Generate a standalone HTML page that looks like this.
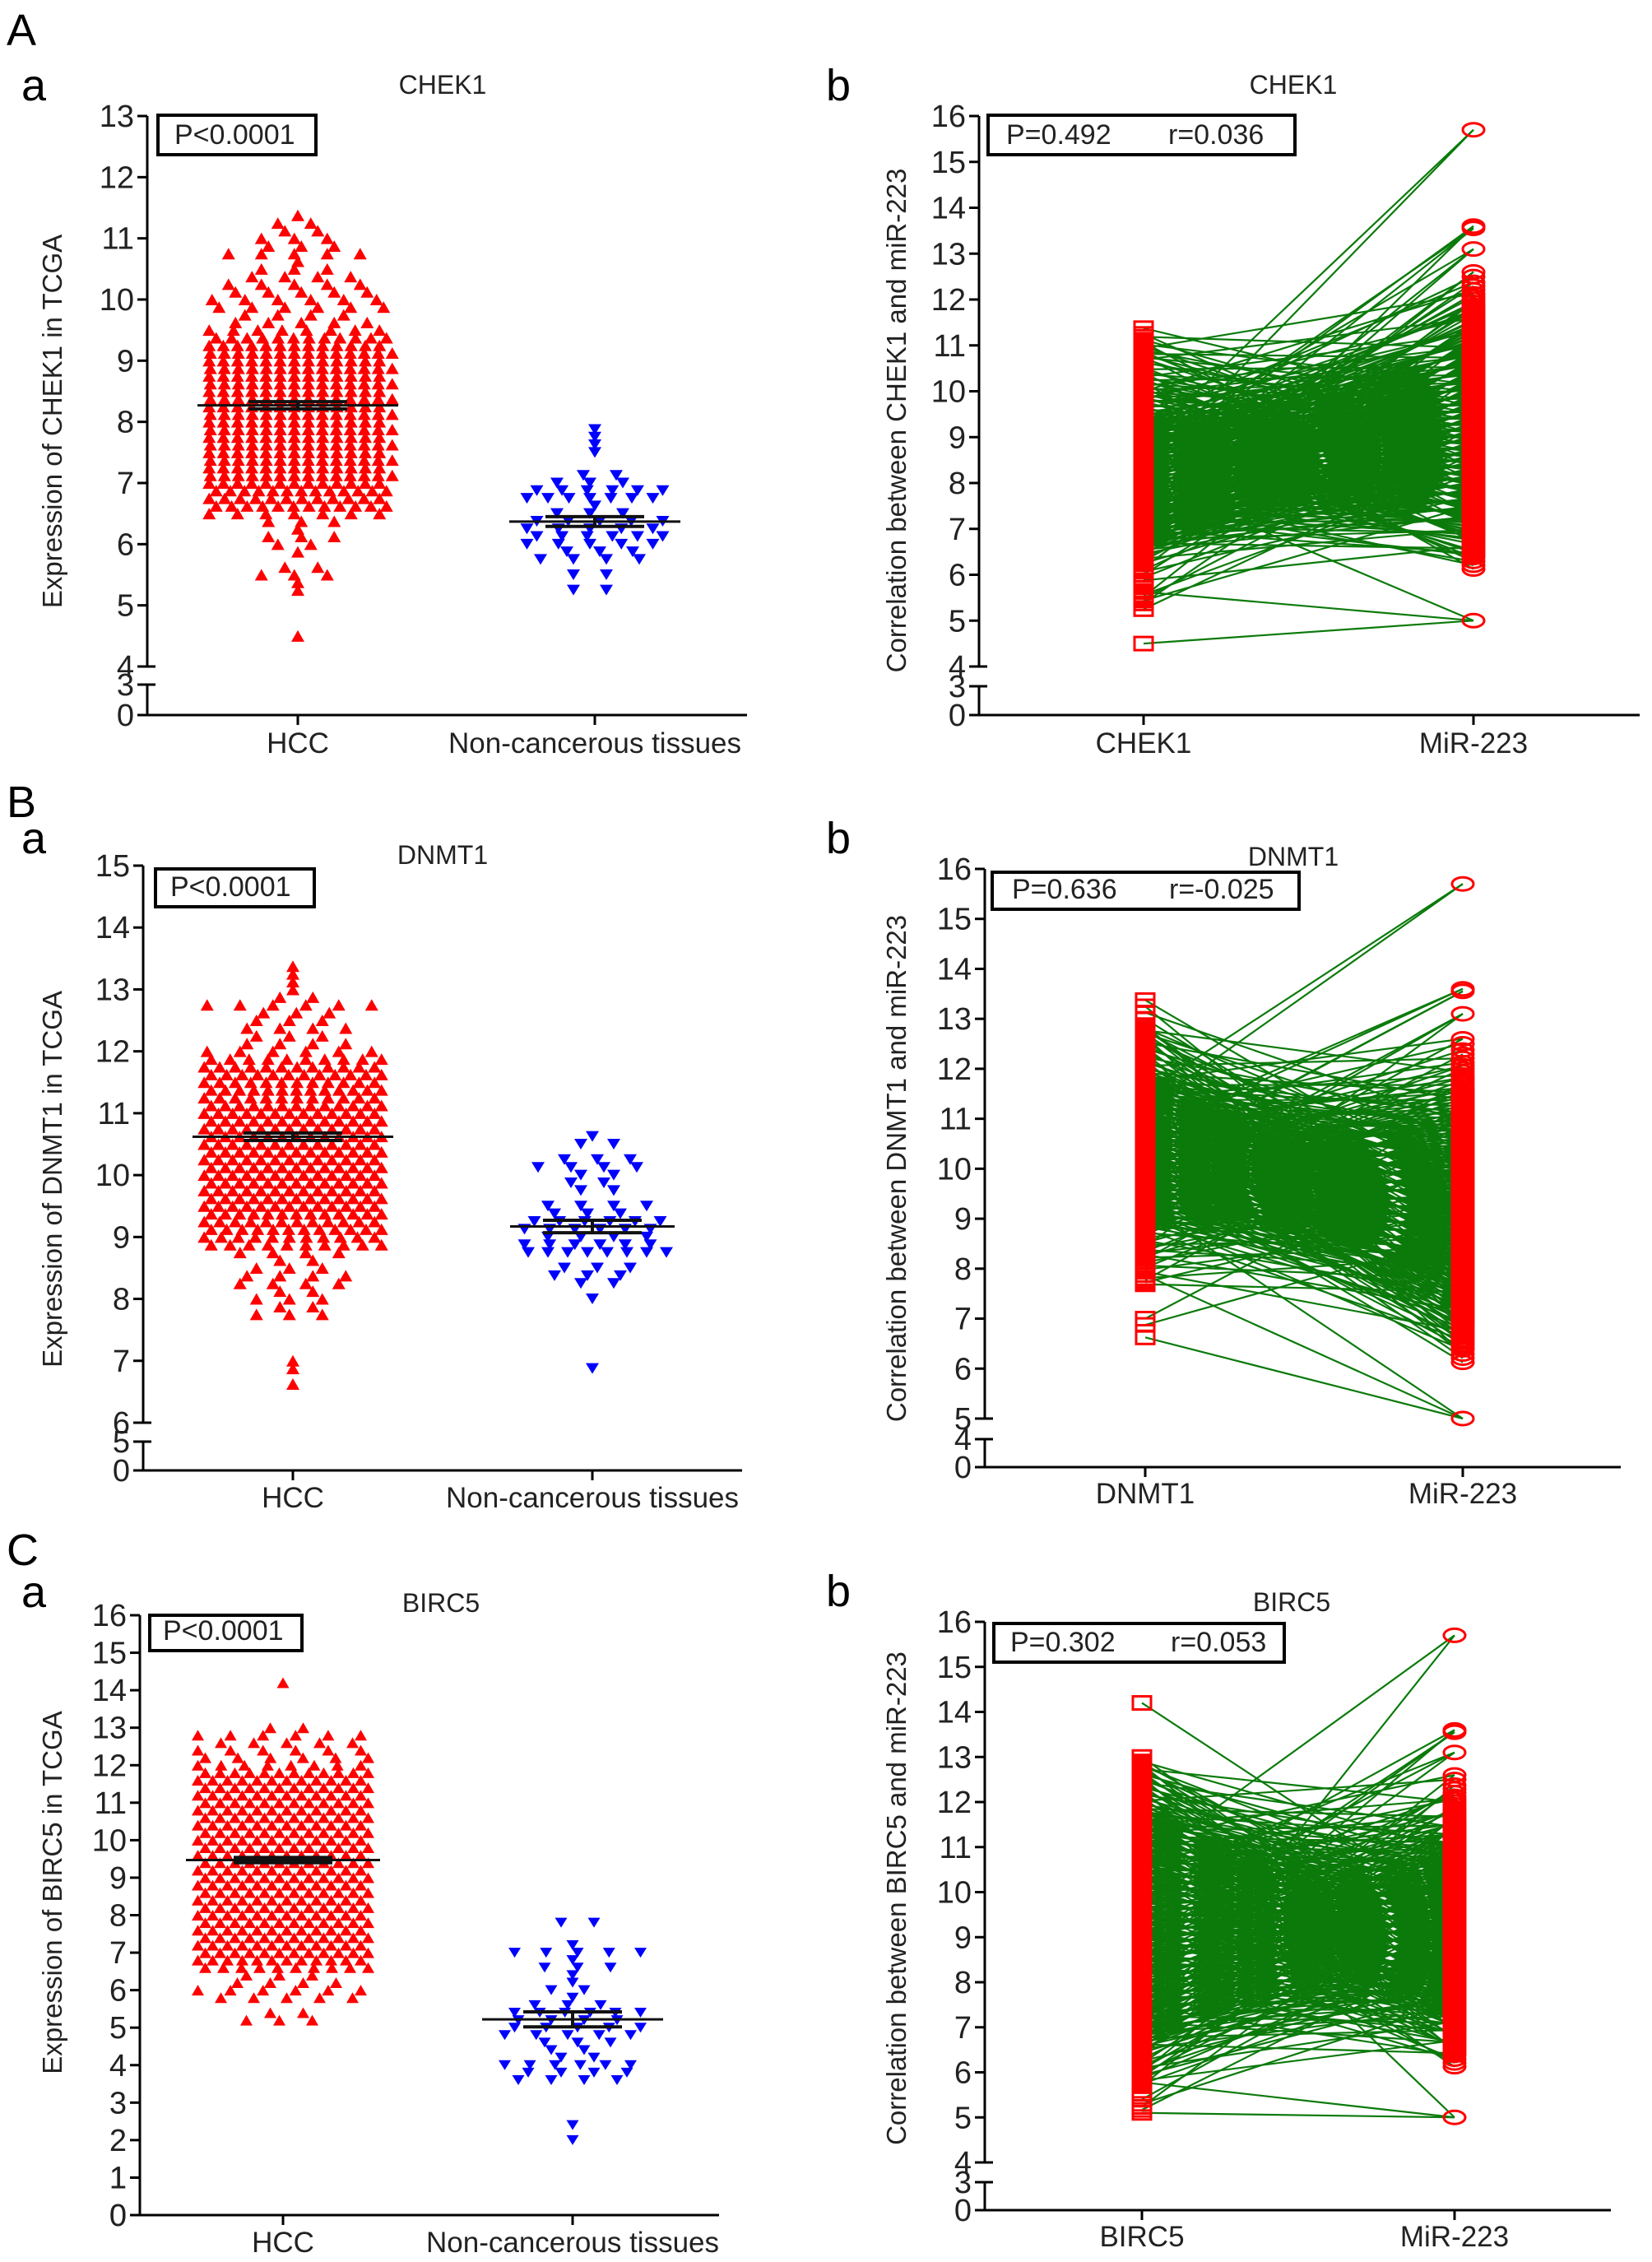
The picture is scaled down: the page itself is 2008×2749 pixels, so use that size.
<!DOCTYPE html>
<html><head><meta charset="utf-8">
<style>
html,body{margin:0;padding:0;background:#fff;}
svg{display:block;font-family:"Liberation Sans",Arial,sans-serif;}
</style></head>
<body>
<svg id="fig" width="2008" height="2749" viewBox="0 0 2008 2749" xmlns="http://www.w3.org/2000/svg">
<rect x="0" y="0" width="2008" height="2749" fill="#fff"/>
<text x="8" y="55" font-size="54">A</text>
<text x="26" y="122" font-size="54">a</text>
<text x="1004" y="122" font-size="54">b</text>
<text x="8" y="993" font-size="54">B</text>
<text x="26" y="1037" font-size="54">a</text>
<text x="1004" y="1037" font-size="54">b</text>
<text x="8" y="1902" font-size="54">C</text>
<text x="26" y="1953" font-size="54">a</text>
<text x="1004" y="1952" font-size="54">b</text>
</svg>
<script>
// ---------- DATA (binned counts) ----------
const chek1Start = 4.5, chek1Step = 0.125;
const chek1Counts = [1,0,0,0,0,0,1,1,3,2,0,1,2,3,1,3,7,12,12,13,13,14,13,14,13,14,13,14,13,14,13,14,13,14,13,14,13,14,13,12,8,5,4,6,6,5,5,4,3,1,5,3,3,2,2,1];
const chek1NormStart = 5.25, chek1NormStep = 0.125;
const chek1NormCounts = [2,0,2,0,4,3,5,6,5,5,3,1,7,6,3,2,0,0,1,1,1,1];
const chek1Means = [8.27, 6.37];
const chek1Sem = [0.06, 0.08];

const dnmt1Start = 6.5, dnmt1Step = 0.125;
const dnmt1Counts = [0,1,0,1,1,0,0,0,0,0,3,2,3,2,4,4,3,2,4,10,11,12,12,13,13,13,13,13,13,13,13,13,13,13,13,13,13,13,12,13,12,12,12,10,6,4,3,4,3,3,6,2,1,1,1,1];
const dnmt1NormStart = 6.875, dnmt1NormStep = 0.125;
const dnmt1NormCounts = [1,0,0,0,0,0,0,0,0,1,0,2,3,3,0,8,6,4,6,6,3,4,0,2,2,2,4,3,0,2,1];
const dnmt1Means = [10.62, 9.17];
const dnmt1Sem = [0.06, 0.1];

const birc5Start = 5.2, birc5Step = 0.2;
const birc5Counts = [3,2,0,5,6,4,3,10,12,12,12,12,12,12,12,12,12,12,12,12,12,12,12,12,12,12,12,12,12,12,12,12,12,12,8,6,6,5,6,2,0,0,0,0,0,1];
const birc5NormStart = 2.0, birc5NormStep = 0.2;
const birc5NormCounts = [1,0,1,0,0,0,0,0,4,4,6,2,2,3,5,5,4,6,3,1,2,1,1,3,1,5,1,0,0,2];
const birc5Means = [9.47, 5.22];
const birc5Sem = [0.07, 0.2];

const mirStart = 6.25, mirStep = 0.25;
const mirCounts = [3,5,6,8,10,12,14,16,17,18,18,18,18,17,16,15,14,13,12,10,8,7,5,4,3,2];
const mirExtra = [5.0, 12.6, 13.1, 13.55, 13.6, 15.7];

const groupLabels = ["HCC", "Non-cancerous tissues"];
const pValuesA = ["P<0.0001", "P<0.0001", "P<0.0001"];
const corrP = ["P=0.492", "P=0.636", "P=0.302"];
const corrR = ["r=0.036", "r=-0.025", "r=0.053"];
const genes = ["CHEK1", "DNMT1", "BIRC5"];

// ---------- helpers ----------
const NS = "http://www.w3.org/2000/svg";
const svg = document.getElementById("fig");
function el(tag, attrs, parent) {
  const e = document.createElementNS(NS, tag);
  for (const k in attrs) e.setAttribute(k, attrs[k]);
  (parent || svg).appendChild(e);
  return e;
}
function expand(start, step, counts) {
  const out = [];
  counts.forEach((c, i) => { for (let j = 0; j < c; j++) out.push({v: start + i * step, row: i, j: j, c: c}); });
  return out;
}
function expandSpread(start, step, counts) {
  const out = [];
  counts.forEach((c, i) => { for (let j = 0; j < c; j++) out.push(start + i * step + (c > 1 ? (j / c - 0.5) * step : 0)); });
  return out;
}
function makeScale(p) {
  return function (v) {
    if (v >= p.brkVal) return p.yTop + (p.topVal - v) * (p.yBrk - p.yTop) / (p.topVal - p.brkVal);
    return p.y0 - v * (p.y0 - p.yLow) / p.lowVal;
  };
}
function gcd(a, b) { return b ? gcd(b, a % b) : a; }

function drawAxes(p, g) {
  const sy = makeScale(p);
  const ax = el("g", {}, g);
  
  
  el("line", {x1: p.ax, y1: p.yTop, x2: p.ax, y2: p.yBrk, stroke: "#000", "stroke-width": 3}, ax);
  el("line", {x1: p.ax, y1: p.yLow, x2: p.ax, y2: p.y0, stroke: "#000", "stroke-width": 3}, ax);
  el("line", {x1: p.ax - 12, y1: p.yBrk, x2: p.ax + 10, y2: p.yBrk, stroke: "#000", "stroke-width": 3}, ax);
  el("line", {x1: p.ax - 12, y1: p.yLow, x2: p.ax + 10, y2: p.yLow, stroke: "#000", "stroke-width": 3}, ax);
  el("line", {x1: p.ax - 12, y1: p.y0, x2: p.xEnd, y2: p.y0, stroke: "#000", "stroke-width": 3}, ax);
  const ticks = [];
  for (let v = p.brkVal; v <= p.topVal; v++) ticks.push(v);
  ticks.push(p.lowVal, 0);
  ticks.forEach(v => {
    const y = sy(v);
    el("line", {x1: p.ax - 12, y1: y, x2: p.ax, y2: y, stroke: "#000", "stroke-width": 3}, ax);
    const t = el("text", {x: p.ax - 16, y: y + 13, "font-size": 38, "text-anchor": "end", fill: "#222"}, ax);
    
    
    t.textContent = v;
  });
  p.cats.forEach((cx, i) => {
    el("line", {x1: cx, y1: p.y0, x2: cx, y2: p.y0 + 12, stroke: "#000", "stroke-width": 3}, ax);
    const t = el("text", {x: cx, y: p.labY, "font-size": 35, "text-anchor": "middle", fill: "#222"}, ax);
    
    
    t.textContent = p.catLabels[i];
  });
  const yt = el("text", {x: 0, y: 0, "font-size": 33, "text-anchor": "middle", fill: "#222",
    transform: "translate(" + (p.ytX + 11) + "," + p.ytY + ") rotate(-90)"}, ax);
  
  
  yt.textContent = p.yTitle;
  const tt = el("text", {x: p.titleX, y: p.titleY, "font-size": 32, "text-anchor": "middle", fill: "#222"}, ax);
  
  
  tt.textContent = p.title;
  const bx = el("rect", {x: p.box[0], y: p.box[1], width: p.box[2] - p.box[0], height: p.box[3] - p.box[1], fill: "#fff", stroke: "#000", "stroke-width": 4}, ax);
  
  
  p.boxText.forEach((s, i) => {
    const t = el("text", {x: p.box[0] + p.boxTextX[i], y: p.box[3] - 13, "font-size": 34, fill: "#222"}, ax);
    
    
    t.textContent = s;
  });
  return sy;
}

function drawScatter(p, data, means, sem) {
  const g = el("g", {});
  
  
  const sy = drawAxes(p, g);
  data.forEach((grp, gi) => {
    const cx = p.cats[gi];
    const pts = expand(grp.start, grp.step, grp.counts);
    const sg = el("g", {fill: gi === 0 ? "#ff0000" : "#0000ff"}, g);
    
    
    const w = grp.w, h = grp.h;
    pts.forEach(pt => {
      const sp = pt.c > 1 ? Math.max(grp.sp, Math.min(grp.W / (pt.c - 1) * 0.9, 40)) : 0;
      const x = cx + (pt.j - (pt.c - 1) / 2) * sp + ((pt.row % 2) ? grp.sp * 0.25 : -grp.sp * 0.25) * (pt.c > 1 ? 1 : 0);
      const y = sy(pt.v);
      let d;
      if (gi === 0) d = "M" + (x - w / 2) + "," + (y + h / 2) + " L" + (x + w / 2) + "," + (y + h / 2) + " L" + x + "," + (y - h / 2) + "Z";
      else d = "M" + (x - w / 2) + "," + (y - h / 2) + " L" + (x + w / 2) + "," + (y - h / 2) + " L" + x + "," + (y + h / 2) + "Z";
      const m = el("path", {d: d}, sg);
      
      
    });
    const ym = sy(means[gi]);
    const ml = el("line", {x1: cx - grp.meanHalf, y1: ym, x2: cx + grp.meanHalf, y2: ym, stroke: "#111", "stroke-width": 3}, g);
    
    
    const yu = sy(means[gi] + sem[gi]), yl = sy(means[gi] - sem[gi]);
    [yu, yl].forEach(yy => {
      const e = el("line", {x1: cx - 60, y1: yy, x2: cx + 60, y2: yy, stroke: "#111", "stroke-width": 4}, g);
      
      
    });
    const ev = el("line", {x1: cx, y1: yu, x2: cx, y2: yl, stroke: "#111", "stroke-width": 4}, g);
    
    
  });
}

function drawPaired(p, start, step, counts) {
  const g = el("g", {});
  
  
  const sy = drawAxes(p, g);
  const geneVals = expandSpread(start, step, counts);
  const mirVals = expandSpread(mirStart, mirStep, mirCounts).concat(mirExtra).sort((a, b) => a - b);
  const n = geneVals.length, m = mirVals.length;
  let k = Math.floor(n * 0.381);
  while (gcd(k, n) !== 1) k++;
  const x1 = p.cats[0], x2 = p.cats[1];
  const lg = el("g", {stroke: "#0b7a0b", "stroke-width": 2.2}, g);
  
  
  const pairs = [];
  for (let i = 0; i < n; i++) {
    const mi = Math.min(m - 1, Math.floor(((i * k) % n) / n * m));
    pairs.push([geneVals[i], mirVals[mi]]);
  }
  mirExtra.forEach((v, i) => { pairs[(i * 53 + 7) % n][1] = v; });
  pairs.forEach(pr => {
    const l = el("line", {x1: x1, y1: sy(pr[0]), x2: x2, y2: sy(pr[1])}, lg);
    
    
  });
  const sg = el("g", {fill: "none", stroke: "#ff0000", "stroke-width": 3}, g);
  
  
  geneVals.forEach(v => {
    const r = el("rect", {x: x1 - 11, y: sy(v) - 8, width: 22, height: 16}, sg);
    
    
  });
  const cg = el("g", {fill: "none", stroke: "#ff0000", "stroke-width": 3}, g);
  
  
  mirVals.forEach(v => {
    const c = el("ellipse", {cx: x2, cy: sy(v), rx: 13, ry: 8}, cg);
    
    
  });
}

// ---------- LAYOUT ----------
const layoutA = {ax: 179, yTop: 141, topVal: 13, brkVal: 4, yBrk: 810, lowVal: 3, yLow: 832, y0: 869, xEnd: 908,
  cats: [362, 723], catLabels: groupLabels, labY: 915, ytX: 64, ytY: 512, yTitle: "Expression of CHEK1 in TCGA",
  title: genes[0], titleX: 538, titleY: 114, box: [192, 140, 384, 188], boxText: [pValuesA[0]], boxTextX: [20]};
const layoutAb = {ax: 1190, yTop: 141, topVal: 16, brkVal: 4, yBrk: 810, lowVal: 3, yLow: 834, y0: 869, xEnd: 1993,
  cats: [1390, 1791], catLabels: ["CHEK1", "MiR-223"], labY: 915, ytX: 1090, ytY: 511, yTitle: "Correlation between CHEK1 and miR-223",
  title: genes[0], titleX: 1572, titleY: 114, box: [1201, 140, 1574, 188], boxText: [corrP[0], corrR[0]], boxTextX: [22, 219]};
const layoutB = {ax: 174, yTop: 1052, topVal: 15, brkVal: 6, yBrk: 1729, lowVal: 5, yLow: 1752, y0: 1787, xEnd: 902,
  cats: [356, 720], catLabels: groupLabels, labY: 1832, ytX: 64, ytY: 1433, yTitle: "Expression of DNMT1 in TCGA",
  title: genes[1], titleX: 538, titleY: 1050, box: [189, 1056, 382, 1102], boxText: [pValuesA[1]], boxTextX: [18]};
const layoutBb = {ax: 1197, yTop: 1056, topVal: 16, brkVal: 5, yBrk: 1724, lowVal: 4, yLow: 1749, y0: 1783, xEnd: 1970,
  cats: [1392, 1778], catLabels: ["DNMT1", "MiR-223"], labY: 1827, ytX: 1090, ytY: 1420, yTitle: "Correlation between DNMT1 and miR-223",
  title: genes[1], titleX: 1572, titleY: 1052, box: [1206, 1060, 1579, 1105], boxText: [corrP[1], corrR[1]], boxTextX: [24, 215]};
const layoutC = {ax: 170, yTop: 1963, topVal: 16, brkVal: 0, yBrk: 2692, lowVal: 1, yLow: 2692, y0: 2692, xEnd: 874,
  cats: [344, 696], catLabels: groupLabels, labY: 2737, ytX: 64, ytY: 2300, yTitle: "Expression of BIRC5 in TCGA",
  title: genes[2], titleX: 536, titleY: 1959, box: [182, 1963, 367, 2006], boxText: [pValuesA[2]], boxTextX: [16]};
const layoutCb = {ax: 1197, yTop: 1971, topVal: 16, brkVal: 4, yBrk: 2628, lowVal: 3, yLow: 2652, y0: 2686, xEnd: 1958,
  cats: [1388, 1768], catLabels: ["BIRC5", "MiR-223"], labY: 2730, ytX: 1090, ytY: 2307, yTitle: "Correlation between BIRC5 and miR-223",
  title: genes[2], titleX: 1570, titleY: 1958, box: [1208, 1973, 1561, 2020], boxText: [corrP[2], corrR[2]], boxTextX: [20, 215]};

drawScatter(layoutA, [
  {start: chek1Start, step: chek1Step, counts: chek1Counts, sp: 17, W: 230, w: 16, h: 14, meanHalf: 122},
  {start: chek1NormStart, step: chek1NormStep, counts: chek1NormCounts, sp: 24, W: 170, w: 16, h: 13, meanHalf: 104}
], chek1Means, chek1Sem);
drawPaired(layoutAb, chek1Start, chek1Step, chek1Counts);

drawScatter(layoutB, [
  {start: dnmt1Start, step: dnmt1Step, counts: dnmt1Counts, sp: 17, W: 230, w: 16, h: 14, meanHalf: 122},
  {start: dnmt1NormStart, step: dnmt1NormStep, counts: dnmt1NormCounts, sp: 24, W: 170, w: 16, h: 13, meanHalf: 100}
], dnmt1Means, dnmt1Sem);
drawPaired(layoutBb, dnmt1Start, dnmt1Step, dnmt1Counts);

drawScatter(layoutC, [
  {start: birc5Start, step: birc5Step, counts: birc5Counts, sp: 18, W: 220, w: 15, h: 13, meanHalf: 118},
  {start: birc5NormStart, step: birc5NormStep, counts: birc5NormCounts, sp: 24, W: 170, w: 15, h: 12, meanHalf: 110}
], birc5Means, birc5Sem);
drawPaired(layoutCb, birc5Start, birc5Step, birc5Counts);
</script>
</body></html>
